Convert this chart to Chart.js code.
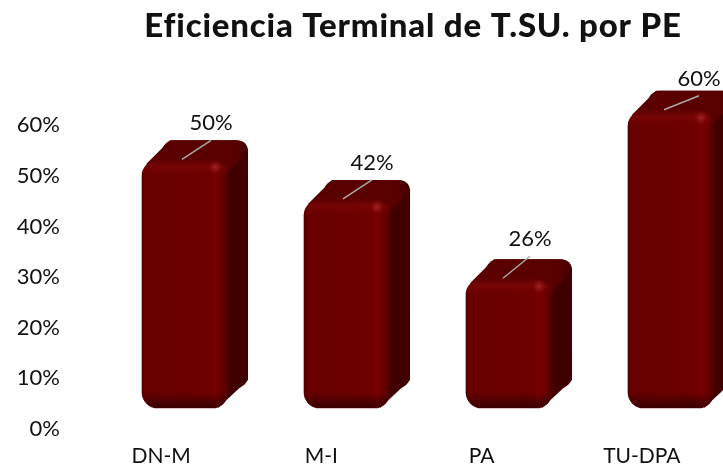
<!DOCTYPE html>
<html>
<head>
<meta charset="utf-8">
<script src="https://cdn.jsdelivr.net/npm/chart.js@4"></script>
<style>
  html, body { margin: 0; padding: 0; background: #fff; overflow: hidden; }
  #wrap { width: 723px; height: 466px; }
</style>
</head>
<body>
<div id="wrap"><canvas id="chart"></canvas></div>
<script>
const chartTitle = "Eficiencia Terminal de T.SU. por PE";
const categories = ["DN-M", "M-I", "PA", "TU-DPA"];
const values = [50, 42, 26, 60];
const valueLabels = ["50%", "42%", "26%", "60%"];

// where each callout label sits relative to the top of its bar
const labelDx = [26, 25, 21, 28];
const labelDy = [-37, -37, -40, -32];
const lineDx = [-3, -4, -6, -7];

const FONT = "Lato, 'Open Sans', sans-serif";
const DEPTH_X = 20;
const DEPTH_Y = 20;

// extruded top and side, painted behind the bars
const depthPlugin = {
  id: "depth",
  afterInit(chart) {
    // title font is narrower than the original, so space the letters out
    const drawTitle = chart.titleBlock.draw;
    chart.titleBlock.draw = function () {
      chart.ctx.letterSpacing = "0.8px";
      drawTitle.call(this);
      chart.ctx.letterSpacing = "0px";
    };
  },
  afterLayout(chart) {
    chart.titleBlock.left += 52;
    chart.titleBlock.right += 52;
  },
  beforeDatasetsDraw(chart) {
    const ctx = chart.ctx;
    chart.getDatasetMeta(0).data.forEach(bar => {
      const L = bar.x - bar.width / 2, R = bar.x + bar.width / 2;
      const T = bar.y, B = bar.base;
      ctx.save();
      ctx.fillStyle = "#400000";
      ctx.beginPath();
      ctx.roundRect(L + DEPTH_X, T - DEPTH_Y, bar.width, B - T, 12);
      ctx.fill();
      ctx.beginPath();
      ctx.moveTo(R - 20, T + 20);
      ctx.lineTo(R + DEPTH_X - 2, T - DEPTH_Y + 8);
      ctx.lineTo(R + DEPTH_X, B - DEPTH_Y - 8);
      ctx.lineTo(R - 10, B);
      ctx.closePath();
      ctx.fill();
      const top = ctx.createLinearGradient(R - 5, 0, R + DEPTH_X, 0);
      top.addColorStop(0, "#5a0000");
      top.addColorStop(0.6, "#560000");
      top.addColorStop(1, "#420000");
      ctx.fillStyle = top;
      ctx.beginPath();
      ctx.moveTo(L + 4, T + 4);
      ctx.lineTo(L + DEPTH_X + 8, T - DEPTH_Y);
      ctx.lineTo(R + DEPTH_X - 12, T - DEPTH_Y);
      ctx.quadraticCurveTo(R + DEPTH_X, T - DEPTH_Y, R + DEPTH_X, T - DEPTH_Y + 12);
      ctx.lineTo(R, T + 12);
      ctx.closePath();
      ctx.fill();
      ctx.restore();
    });
  },
  afterDatasetsDraw(chart) {
    const ctx = chart.ctx;
    chart.getDatasetMeta(0).data.forEach((bar, i) => {
      const L = bar.x - bar.width / 2, R = bar.x + bar.width / 2;
      const T = bar.y, B = bar.base;

      // shading on the front face
      ctx.save();
      ctx.beginPath();
      ctx.roundRect(L, T, bar.width, B - T, 16);
      ctx.clip();
      const across = ctx.createLinearGradient(L, 0, R, 0);
      across.addColorStop(0, "#520000");
      across.addColorStop(0.04, "#680000");
      across.addColorStop(0.5, "#6b0000");
      across.addColorStop(0.8, "#6e0000");
      across.addColorStop(0.85, "#7a0000");
      across.addColorStop(0.92, "#6a0000");
      across.addColorStop(1, "#500000");
      ctx.fillStyle = across;
      ctx.fillRect(L, T, bar.width, B - T);
      const topGlow = ctx.createLinearGradient(0, T, 0, T + 16);
      topGlow.addColorStop(0, "rgba(85,0,0,0.6)");
      topGlow.addColorStop(0.4, "rgba(130,10,10,0.5)");
      topGlow.addColorStop(1, "rgba(120,0,0,0)");
      ctx.fillStyle = topGlow;
      ctx.fillRect(L, T, bar.width, 16);
      const bottom = ctx.createLinearGradient(0, B - 16, 0, B);
      bottom.addColorStop(0, "rgba(40,0,0,0)");
      bottom.addColorStop(1, "rgba(40,0,0,0.75)");
      ctx.fillStyle = bottom;
      ctx.fillRect(L, B - 16, bar.width, 16);
      const spot = ctx.createRadialGradient(R - 13, T + 7, 0, R - 13, T + 7, 7);
      spot.addColorStop(0, "rgba(170,50,50,0.75)");
      spot.addColorStop(1, "rgba(150,20,20,0)");
      ctx.fillStyle = spot;
      ctx.fillRect(R - 21, T - 1, 16, 16);
      ctx.restore();

      // callout line and value
      const lx = bar.x + labelDx[i], ly = T + labelDy[i];
      ctx.save();
      ctx.strokeStyle = "#a9a9a9";
      ctx.lineWidth = 1.5;
      ctx.beginPath();
      ctx.moveTo(bar.x + lineDx[i], T - 1);
      ctx.lineTo(lx, ly + 17);
      ctx.stroke();
      ctx.fillStyle = "#111";
      ctx.font = "22px " + FONT;
      ctx.textAlign = "center";
      ctx.textBaseline = "middle";
      ctx.fillText(valueLabels[i], lx, ly);
      ctx.restore();
    });
  }
};

new Chart(document.getElementById("chart"), {
  type: "bar",
  data: {
    labels: categories,
    datasets: [{
      data: values.map((v, i) => ({ x: i, y: v })),
      xAxisID: "xBars",
      yAxisID: "yBars",
      backgroundColor: "#6b0000",
      barThickness: 86,
      borderRadius: 16,
      borderSkipped: false
    }]
  },
  options: {
    responsive: true,
    maintainAspectRatio: false,
    animation: false,
    layout: { padding: { right: 1 } },
    plugins: {
      legend: { display: false },
      tooltip: { enabled: false },
      title: {
        display: true,
        text: chartTitle,
        color: "#111",
        font: { family: FONT, size: 33, weight: "900" },
        padding: { top: 7, bottom: 28 }
      }
    },
    scales: {
      x: {
        type: "category",
        afterFit: s => { s.height = 37; },
        grid: { display: false, drawTicks: false },
        border: { display: false },
        ticks: { color: "#111", padding: 15, autoSkip: false, maxRotation: 0, font: { family: FONT, size: 21 } }
      },
      y: {
        min: 0,
        max: 70,
        afterFit: s => { s.width = 81; },
        grid: { display: false, drawTicks: false },
        border: { display: false },
        ticks: {
          stepSize: 10,
          color: "#111",
          padding: 21,
          font: { family: FONT, size: 22 },
          callback: v => (v > 60 ? "" : v + "%")
        }
      },
      xBars: { type: "linear", display: false, offset: false, min: -0.642, max: 3.315 },
      yBars: { type: "linear", display: false, min: -4.23, max: 67.3 }
    }
  },
  plugins: [depthPlugin]
});
</script>
</body>
</html>
